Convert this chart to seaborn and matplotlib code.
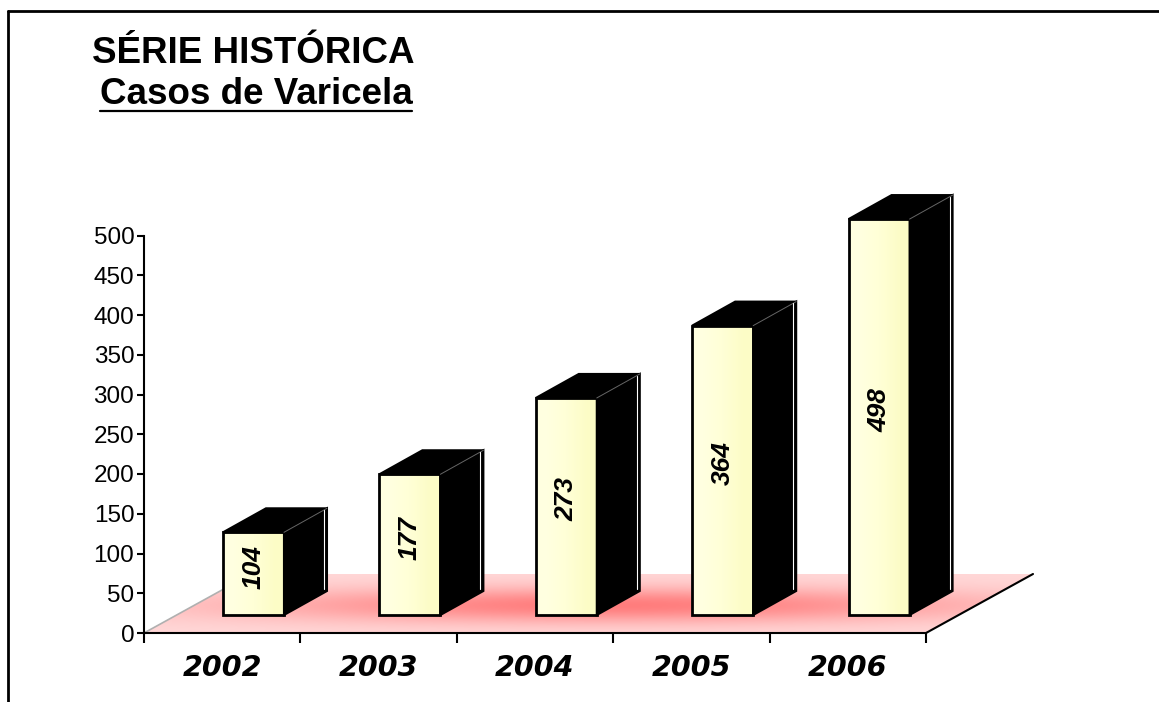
import numpy as np
import matplotlib
matplotlib.use("Agg")
import matplotlib.pyplot as plt
import seaborn as sns
from matplotlib.patches import Polygon
from matplotlib.lines import Line2D

# data
anos = ['2002', '2003', '2004', '2005', '2006']
casos = [104, 177, 273, 364, 498]
yticks = list(range(0, 501, 50))
titulo = 'SÉRIE HISTÓRICA'
subtitulo = 'Casos de Varicela'

sns.set_style('white')
plt.rcParams['font.family'] = ['Liberation Sans', 'DejaVu Sans']
plt.rcParams['text.color'] = 'black'
plt.rcParams['xtick.color'] = 'black'
plt.rcParams['ytick.color'] = 'black'
plt.rcParams['axes.labelcolor'] = 'black'

W, H = 1159, 702
fig = plt.figure(figsize=(W / 100, H / 100), dpi=100)

# plot area in pixels
x0_px, y0_px = 144, 633
cat_px = 156.4      # width of one category
unit_px = 0.795     # pixels per case
right_px, top_px = 1150, 150
ax = fig.add_axes([x0_px / W, (H - y0_px) / H, (right_px - x0_px) / W, (y0_px - top_px) / H])
xmax = -0.5 + (right_px - x0_px) / cat_px
ymax = (y0_px - top_px) / unit_px

# fake 3d offsets (data units)
floor_dx, floor_dy = 107 / cat_px, 59 / unit_px
bar_sx, bar_sy = 0.2, 18 / unit_px
bar_dx, bar_dy = 43 / cat_px, 24 / unit_px
bar_w = 61 / cat_px

sns.barplot(x=anos, y=casos, width=bar_w, color='#ffffcc', saturation=1,
            edgecolor='black', linewidth=2, ax=ax, zorder=3)

# pink floor with soft gradient
fx = [-0.5, 4.5, 4.5 + floor_dx, -0.5 + floor_dx]
fy = [0, 0, floor_dy, floor_dy]
floor = Polygon(list(zip(fx, fy)), closed=True, facecolor='none', edgecolor='none')
ax.add_patch(floor)
gx = np.linspace(-0.5, 4.5 + floor_dx, 400)
gy = np.linspace(0, floor_dy, 120)
GX, GY = np.meshgrid(gx, gy)
w = np.exp(-((GY / floor_dy - 0.47) / 0.3) ** 2) * np.exp(-((GX - 2.5) / 2.4) ** 2)
light = np.array([1.0, 0.85, 0.85])
dark = np.array([1.0, 0.49, 0.49])
img = light + w[..., None] * (dark - light)
im = ax.imshow(img, extent=[gx[0], gx[-1], 0, floor_dy], origin='lower',
               aspect='auto', zorder=1, interpolation='bilinear')
im.set_clip_path(floor)
ax.plot([-0.5, -0.5 + floor_dx], [0, floor_dy], color='#b0b0b0', lw=1.2, zorder=2)
ax.plot([4.5, 4.5 + floor_dx], [0, floor_dy], color='black', lw=1.5, zorder=2, clip_on=False)

# bars: front face gradient, black side and top
face_grad = np.array([[[1.0, 1.0, 0.88], [1.0, 1.0, 0.84], [0.99, 0.99, 0.78]]])
for bar, v in zip(ax.containers[0], casos):
    bar.set_x(bar.get_x() + bar_sx)
    bar.set_y(bar_sy)
    bar.set_facecolor('none')
    xl = bar.get_x()
    xr = xl + bar.get_width()
    yb = bar_sy
    yt = yb + bar.get_height()
    ax.imshow(face_grad, extent=[xl, xr, yb, yt], aspect='auto', zorder=2.5,
              interpolation='bilinear')
    side = Polygon([(xr, yb), (xr + bar_dx, yb + bar_dy), (xr + bar_dx, yt + bar_dy), (xr, yt)],
                   closed=True, facecolor='black', edgecolor='black', lw=1.5, zorder=3)
    top = Polygon([(xl, yt), (xr, yt), (xr + bar_dx, yt + bar_dy), (xl + bar_dx, yt + bar_dy)],
                  closed=True, facecolor='black', edgecolor='black', lw=1.5, zorder=3)
    ax.add_patch(side)
    ax.add_patch(top)
    ax.plot([xr, xr + bar_dx], [yt, yt + bar_dy], color='#666666', lw=0.7, zorder=4)
    ax.plot([xr + bar_dx - 3 / cat_px] * 2, [yb + bar_dy + 2, yt + bar_dy - 2],
            color='white', lw=0.8, zorder=4)
    ax.text((xl + xr) / 2, yb + v / 2 + 7 / unit_px, str(v), rotation=90,
            ha='center', va='center', fontsize=19, fontweight='bold',
            fontstyle='italic', zorder=5)

# axes
ax.set_xlim(-0.5, xmax)
ax.set_ylim(0, ymax)
ax.set_xlabel('')
ax.set_ylabel('')
ax.set_yticks(yticks)
ax.tick_params(axis='y', left=True, length=5, width=1.5, labelsize=17.5, pad=2)
ax.set_xticks(range(len(anos)))
ax.set_xticklabels(anos, fontsize=20.5, fontweight='bold', fontstyle='italic',
                   family='DejaVu Sans')
ax.set_xticks(np.arange(-0.5, len(anos)), minor=True)
ax.tick_params(axis='x', which='major', length=0, pad=15)
ax.tick_params(axis='x', which='minor', bottom=True, length=7, width=1.5)
for s in ['top', 'right']:
    ax.spines[s].set_visible(False)
ax.spines['left'].set_bounds(0, 500)
ax.spines['bottom'].set_bounds(-0.5, 4.5)
for s in ['left', 'bottom']:
    ax.spines[s].set_linewidth(1.5)
    ax.spines[s].set_color('black')
    ax.spines[s].set_zorder(6)

# titles
fig.text(253 / W, 1 - 63 / H, titulo, ha='center', va='baseline', fontsize=26.5, fontweight='bold')
t2 = fig.text(256 / W, 1 - 104 / H, subtitulo, ha='center', va='baseline', fontsize=26.5,
              fontweight='bold')
fig.canvas.draw()
bb = t2.get_window_extent()
fig.add_artist(Line2D([bb.x0 / W, bb.x1 / W], [1 - 111 / H] * 2, color='black', lw=1.6))

# outer frame (left and top edges)
fig.add_artist(Line2D([8 / W, 8 / W], [0, 1 - 10.5 / H], color='black', lw=2))
fig.add_artist(Line2D([8 / W, 1], [1 - 10.5 / H] * 2, color='black', lw=2))

fig.savefig('out.png', dpi=100)
